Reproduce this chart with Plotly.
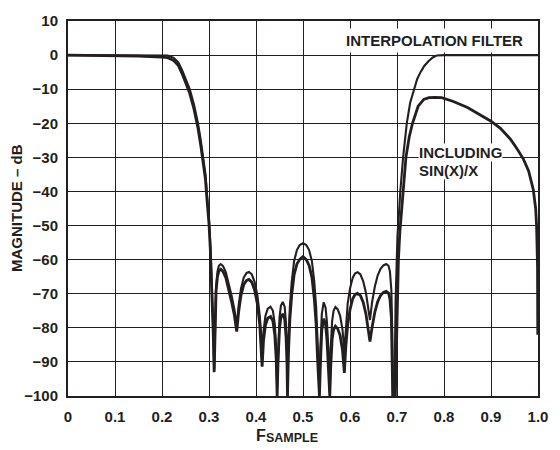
import plotly.graph_objects as go

# ---------------- data ----------------
passband_x = [0, 0.05, 0.10, 0.15, 0.20, 0.212, 0.225, 0.235, 0.243, 0.251, 0.259, 0.268,
              0.2765, 0.2825, 0.2882, 0.2925, 0.2952, 0.298, 0.300, 0.303, 0.306, 0.309, 0.311]
filter_pass_db = [0, 0, 0, 0, 0, -0.1, -0.8, -2.2, -4.5, -7, -10, -14.5,
                  -20, -25, -30, -35, -40, -44, -48, -56, -66, -80, -92]
sinc_pass_db = [0, -0.04, -0.14, -0.33, -0.58, -0.75, -1.6, -3.1, -5.5, -8.1, -11.2, -15.8,
                -21.4, -26.5, -31.5, -36.5, -41.5, -45.5, -49.5, -57.5, -67.5, -81.5, -93]

stopband_x = [0.3125, 0.315, 0.318, 0.321, 0.325, 0.330, 0.336, 0.342, 0.348, 0.354, 0.359,
              0.363, 0.368, 0.374, 0.380, 0.385, 0.391, 0.397, 0.403, 0.408, 0.411, 0.413,
              0.416, 0.420, 0.425, 0.431, 0.436, 0.440, 0.443, 0.445,
              0.447, 0.450, 0.453, 0.457, 0.461, 0.464, 0.466, 0.467,
              0.469, 0.472, 0.476, 0.481, 0.487, 0.493, 0.500, 0.507, 0.513, 0.519, 0.524, 0.528, 0.531, 0.535,
              0.537, 0.540, 0.544, 0.548, 0.551, 0.554, 0.557,
              0.559, 0.562, 0.565, 0.569, 0.574, 0.579, 0.584, 0.588,
              0.591, 0.595, 0.600, 0.606, 0.611, 0.616, 0.622, 0.628, 0.634, 0.639, 0.6425,
              0.647, 0.653, 0.659, 0.665, 0.671, 0.677, 0.682, 0.685, 0.688, 0.690, 0.691]
filter_stop_db = [-78, -68, -63.5, -61.8, -61.3, -61.9, -63.8, -66.8, -70.5, -74.5, -79.3,
                  -73.5, -68.5, -65.2, -63.9, -63.6, -64.3, -66.5, -70.5, -76.5, -82, -88.7,
                  -81, -76.5, -74.4, -73.8, -75, -79, -86, -97.8,
                  -86, -77, -73.5, -72.4, -73.8, -79, -87, -97.3,
                  -84, -74, -66.5, -60.5, -57.2, -55.7, -55.2, -55.7, -57.2, -60.5, -66.5, -74, -84, -98.5,
                  -86, -76, -72.5, -74, -78.5, -86, -99,
                  -86, -78, -75, -73.9, -74.6, -76.5, -80.5, -87,
                  -79.5, -73, -68.5, -65.2, -64, -63.7, -64.3, -66.3, -69.8, -74, -77.7,
                  -72.5, -67.8, -64.6, -62.7, -61.7, -61.3, -61.8, -63.5, -69, -82, -100]
sinc_stop_db = [-79.5, -69.4, -65, -63.3, -62.8, -63.5, -65.4, -68.5, -72.3, -76.3, -81.1,
                -75.4, -70.5, -67.3, -66.1, -65.8, -66.6, -68.9, -73, -79.1, -84.7, -91.4,
                -83.7, -79.3, -77.2, -76.7, -78, -82.1, -89.2, -100,
                -89.2, -80.3, -76.9, -75.9, -77.4, -82.7, -90.8, -100,
                -87.6, -77.7, -70.3, -64.5, -61.3, -59.9, -59.1, -60, -61.7, -65.2, -71.4, -79.1, -89.3, -100,
                -90.6, -80.7, -77.3, -78.9, -83.5, -91.1, -100,
                -91.3, -83.4, -80.5, -79.5, -80.3, -82.3, -86.5, -93.2,
                -85.7, -79.2, -74.7, -71.4, -70.2, -69.9, -70.5, -72.5, -76, -80.2, -84,
                -79.8, -75.3, -72.3, -70.5, -69.6, -69.3, -69.8, -71.5, -77, -90, -100]

filter_rise_x = [0.6945, 0.697, 0.699, 0.701, 0.7044, 0.707, 0.713, 0.7208, 0.728, 0.736,
                 0.743, 0.750, 0.758, 0.767, 0.776, 0.785, 0.80, 0.90, 1.0]
filter_rise_db = [-100, -72, -60, -53, -46, -40, -30, -20, -14, -10,
                  -7, -5, -3.2, -1.8, -0.7, -0.1, 0, 0, 0]

sinc_rise_x = [0.6965, 0.700, 0.703, 0.706, 0.709, 0.712, 0.719, 0.726, 0.733, 0.745, 0.757,
               0.768, 0.780, 0.795, 0.820, 0.850, 0.865, 0.880, 0.900, 0.920, 0.941, 0.955,
               0.969, 0.980, 0.990, 0.995, 0.997, 0.999, 0.9995]
sinc_rise_db = [-100, -75, -60, -52, -46.6, -40, -30, -24, -20, -15, -13,
                -12.5, -12.4, -12.5, -13.6, -15.4, -16.6, -17.8, -19.4, -21.5, -24.6, -27.4,
                -30.5, -34, -39.5, -45, -50, -62, -82]

x_ticks = [0, 0.1, 0.2, 0.3, 0.4, 0.5, 0.6, 0.7, 0.8, 0.9, 1.0]
x_tick_labels = ["0", "0.1", "0.2", "0.3", "0.4", "0.5", "0.6", "0.7", "0.8", "0.9", "1.0"]
y_ticks = [-100, -90, -80, -70, -60, -50, -40, -30, -20, -10, 0, 10]
y_tick_labels = ["\u2212100", "\u221290", "\u221280", "\u221270", "\u221260", "\u221250",
                 "\u221240", "\u221230", "\u221220", "\u221210", "0", "10"]

# ---------------- figure ----------------
INK = "#231f20"
FONT = "Liberation Sans, Arial, Helvetica, sans-serif"

filter_x = passband_x + stopband_x + filter_rise_x
filter_db = filter_pass_db + filter_stop_db + filter_rise_db
sinc_x = passband_x + stopband_x + sinc_rise_x
sinc_db = sinc_pass_db + sinc_stop_db + sinc_rise_db

fig = go.Figure()
fig.add_trace(go.Scatter(x=sinc_x, y=sinc_db, mode="lines",
                         line=dict(color=INK, width=2.8), name="INCLUDING SIN(X)/X"))
fig.add_trace(go.Scatter(x=filter_x, y=filter_db, mode="lines",
                         line=dict(color=INK, width=2.1), name="INTERPOLATION FILTER"))

axis_common = dict(showgrid=True, gridcolor=INK, gridwidth=1.3, zeroline=False,
                   showline=True, linecolor=INK, linewidth=2, mirror=True,
                   ticks="", tickfont=dict(family=FONT, size=15, color=INK, weight="bold"))

fig.update_xaxes(range=[0, 1.0], tickmode="array", tickvals=x_ticks, ticktext=x_tick_labels,
                 ticklabelstandoff=6, **axis_common)
fig.update_yaxes(range=[-100, 10], tickmode="array", tickvals=y_ticks, ticktext=y_tick_labels,
                 ticklabelstandoff=5, **axis_common)

lab = dict(family=FONT, size=15, color=INK, weight="bold")
fig.add_annotation(text="INTERPOLATION FILTER", x=0.779, y=4.2, xref="x", yref="y",
                   showarrow=False, font=lab, bgcolor="white", borderpad=3,
                   xanchor="center", yanchor="middle")
fig.add_annotation(text="SIN(X)/X", x=0.745, y=-33.9, xref="x", yref="y",
                   showarrow=False, font=lab, bgcolor="white", borderpad=0,
                   xanchor="left", yanchor="middle")
fig.add_annotation(text="INCLUDING", x=0.745, y=-28.6, xref="x", yref="y",
                   showarrow=False, font=lab, bgcolor="white", borderpad=0,
                   xanchor="left", yanchor="middle")

# axis titles
fig.add_annotation(text="MAGNITUDE \u2013 dB", x=-0.108, y=0.502, xref="paper", yref="paper",
                   showarrow=False, textangle=-90, font=lab,
                   xanchor="center", yanchor="middle")
fig.add_annotation(text="F", x=0.410, y=-0.1044, xref="x", yref="paper",
                   showarrow=False, font=dict(family=FONT, size=16, color=INK, weight="bold"),
                   xanchor="center", yanchor="middle")
fig.add_annotation(text="SAMPLE", x=0.418, y=-0.111, xref="x", yref="paper",
                   showarrow=False, font=dict(family=FONT, size=12.5, color=INK, weight="bold"),
                   xanchor="left", yanchor="middle")

fig.update_layout(width=560, height=450, margin=dict(l=68, r=12, t=13, b=54),
                  paper_bgcolor="white", plot_bgcolor="white", showlegend=False,
                  font=dict(family=FONT, color=INK))

fig.write_html("out.html")
